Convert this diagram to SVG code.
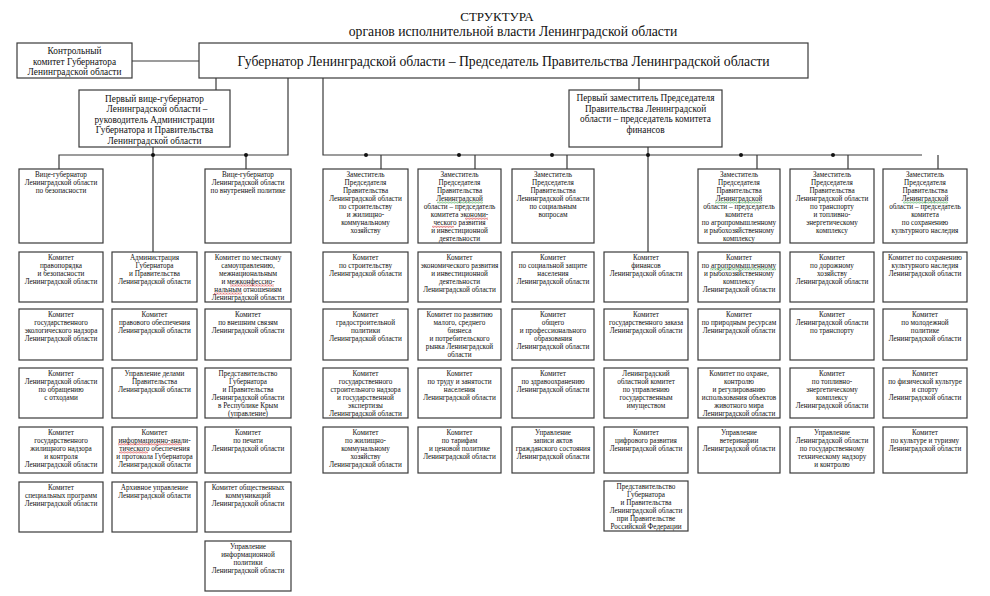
<svg xmlns="http://www.w3.org/2000/svg" width="990" height="596" viewBox="0 0 990 596">
<style>
.b{fill:#fff;stroke:#3a3a3a;stroke-width:1.2}
.t{font-family:"Liberation Serif","Times New Roman",serif;font-size:7.2px;text-anchor:middle;fill:#111}
.m{font-size:9.3px}
.c{stroke:#3a3a3a;stroke-width:1.2;fill:none}
.h{font-family:"Liberation Serif","Times New Roman",serif;text-anchor:middle;fill:#111}
</style>
<defs>
<pattern id="wr" width="3" height="2" patternUnits="userSpaceOnUse"><path d="M0 1.6 L0.75 0.4 L1.5 1.6 L2.25 0.4 L3 1.6" stroke="#d02020" stroke-width="0.6" fill="none"/></pattern>
<pattern id="wg" width="3" height="2" patternUnits="userSpaceOnUse"><path d="M0 1.6 L0.75 0.4 L1.5 1.6 L2.25 0.4 L3 1.6" stroke="#2a9a3a" stroke-width="0.6" fill="none"/></pattern>
</defs>
<rect width="990" height="596" fill="#fff"/>
<g id="title">
<text class="h" x="497" y="21" font-size="13">СТРУКТУРА</text>
<text class="h" x="513" y="36" font-size="13.7">органов исполнительной власти Ленинградской области</text>
</g>
<g id="connectors">
<path class="c" d="M132 61H199M216 78V90M288 78V155H59V169M153 147V252M246 155V169M323 78V155H922M381 155V169M475 155V169M567 155V169M639 78V90M648 147V252M757 155V169M848 155V169M938 155V169"/>
<g fill="#111"><circle cx="153" cy="155" r="2"/><circle cx="246" cy="155" r="2"/><circle cx="366" cy="155" r="2"/><circle cx="459" cy="155" r="2"/><circle cx="552" cy="155" r="2"/><circle cx="648" cy="155" r="2"/><circle cx="741" cy="155" r="2"/><circle cx="833" cy="155" r="2"/></g>
</g>
<g id="control"><rect class="b" x="17" y="43" width="115" height="35"/><text class="t m" font-size="9"><tspan x="74.5" y="54">Контрольный</tspan><tspan x="74.5" y="64.5">комитет Губернатора</tspan><tspan x="74.5" y="74.5">Ленинградской области</tspan></text></g>
<g id="governor"><rect class="b" x="199" y="43" width="609" height="35"/><text class="h" x="503.5" y="66" font-size="13.7">Губернатор Ленинградской области – Председатель Правительства Ленинградской области</text></g>
<g id="first-vice"><rect class="b" x="79" y="90" width="151" height="57"/><text class="t m" font-size="9.5"><tspan x="154.5" y="101.5">Первый вице-губернатор</tspan><tspan x="157" y="112">Ленинградской области –</tspan><tspan x="154.5" y="122.5">руководитель Администрации</tspan><tspan x="154.5" y="133">Губернатора и Правительства</tspan><tspan x="154.5" y="143.5">Ленинградской области</tspan></text></g>
<g id="first-deputy"><rect class="b" x="569" y="90" width="153" height="57"/><text class="t m" font-size="9"><tspan x="645.5" y="101">Первый заместитель Председателя</tspan><tspan x="645.5" y="111.5">Правительства Ленинградской</tspan><tspan x="645.5" y="122">области – председатель комитета</tspan><tspan x="645.5" y="133">финансов</tspan></text></g>

<!-- Column 1 -->
<g id="c1t"><rect class="b" x="19" y="169" width="84" height="74"/><text class="t"><tspan x="61" y="176.5">Вице-губернатор</tspan><tspan x="61" y="184.6">Ленинградской области</tspan><tspan x="61" y="192.7">по безопасности</tspan></text></g>
<g id="c1r1"><rect class="b" x="19" y="252" width="84" height="50"/><text class="t"><tspan x="61" y="259.5">Комитет</tspan><tspan x="61" y="267.6">правопорядка</tspan><tspan x="61" y="275.7">и безопасности</tspan><tspan x="61" y="283.8">Ленинградской области</tspan></text></g>
<g id="c1r2"><rect class="b" x="19" y="309" width="84" height="51"/><text class="t"><tspan x="61" y="316.5">Комитет</tspan><tspan x="61" y="324.6">государственного</tspan><tspan x="61" y="332.7">экологического надзора</tspan><tspan x="61" y="340.8">Ленинградской области</tspan></text></g>
<g id="c1r3"><rect class="b" x="19" y="368" width="84" height="50"/><text class="t"><tspan x="61" y="375.5">Комитет</tspan><tspan x="61" y="383.6">Ленинградской области</tspan><tspan x="61" y="391.7">по обращению</tspan><tspan x="61" y="399.8">с отходами</tspan></text></g>
<g id="c1r4"><rect class="b" x="19" y="427" width="84" height="46"/><text class="t"><tspan x="61" y="434.5">Комитет</tspan><tspan x="61" y="442.6">государственного</tspan><tspan x="61" y="450.7">жилищного надзора</tspan><tspan x="61" y="458.8">и контроля</tspan><tspan x="61" y="466.9">Ленинградской области</tspan></text></g>
<g id="c1r5"><rect class="b" x="19" y="482" width="84" height="50"/><text class="t"><tspan x="61" y="489.5">Комитет</tspan><tspan x="61" y="497.6">специальных программ</tspan><tspan x="61" y="505.7">Ленинградской области</tspan></text></g>

<!-- Column 2 -->
<g id="c2r1"><rect class="b" x="112" y="252" width="85" height="50"/><text class="t"><tspan x="154.5" y="259.5">Администрация</tspan><tspan x="154.5" y="267.6">Губернатора</tspan><tspan x="154.5" y="275.7">и Правительства</tspan><tspan x="154.5" y="283.8">Ленинградской области</tspan></text></g>
<g id="c2r2"><rect class="b" x="112" y="309" width="85" height="51"/><text class="t"><tspan x="154.5" y="316.5">Комитет</tspan><tspan x="154.5" y="324.6">правового обеспечения</tspan><tspan x="154.5" y="332.7">Ленинградской области</tspan></text></g>
<g id="c2r3"><rect class="b" x="112" y="368" width="85" height="50"/><text class="t"><tspan x="154.5" y="375.5">Управление делами</tspan><tspan x="154.5" y="383.6">Правительства</tspan><tspan x="154.5" y="391.7">Ленинградской области</tspan></text></g>
<g id="c2r4"><rect class="b" x="112" y="427" width="85" height="46"/><text class="t"><tspan x="154.5" y="434.5">Комитет</tspan><tspan x="154.5" y="442.6">информационно-анали-</tspan><tspan x="154.5" y="450.7">тического обеспечения</tspan><tspan x="154.5" y="458.8">и протокола Губернатора</tspan><tspan x="154.5" y="466.9">Ленинградской области</tspan></text></g>
<g id="c2r5"><rect class="b" x="112" y="482" width="85" height="50"/><text class="t"><tspan x="154.5" y="489.5">Архивное управление</tspan><tspan x="154.5" y="497.6">Ленинградской области</tspan></text></g>

<!-- Column 3 -->
<g id="c3t"><rect class="b" x="205" y="169" width="86" height="74"/><text class="t"><tspan x="248" y="176.5">Вице-губернатор</tspan><tspan x="248" y="184.6">Ленинградской области</tspan><tspan x="248" y="192.7">по внутренней политике</tspan></text></g>
<g id="c3r1"><rect class="b" x="205" y="252" width="86" height="50"/><text class="t"><tspan x="248" y="259.5">Комитет по местному</tspan><tspan x="248" y="267.6">самоуправлению,</tspan><tspan x="248" y="275.7">межнациональным</tspan><tspan x="248" y="283.8">и межконфессио-</tspan><tspan x="248" y="291.9">нальным отношениям</tspan><tspan x="248" y="300">Ленинградской области</tspan></text></g>
<g id="c3r2"><rect class="b" x="205" y="309" width="86" height="51"/><text class="t"><tspan x="248" y="316.5">Комитет</tspan><tspan x="248" y="324.6">по внешним связям</tspan><tspan x="248" y="332.7">Ленинградской области</tspan></text></g>
<g id="c3r3"><rect class="b" x="205" y="368" width="86" height="50"/><text class="t"><tspan x="248" y="375.5">Представительство</tspan><tspan x="248" y="383.6">Губернатора</tspan><tspan x="248" y="391.7">и Правительства</tspan><tspan x="248" y="399.8">Ленинградской области</tspan><tspan x="248" y="407.9">в Республике Крым</tspan><tspan x="248" y="416">(управление)</tspan></text></g>
<g id="c3r4"><rect class="b" x="205" y="427" width="86" height="46"/><text class="t"><tspan x="248" y="434.5">Комитет</tspan><tspan x="248" y="442.6">по печати</tspan><tspan x="248" y="450.7">Ленинградской области</tspan></text></g>
<g id="c3r5"><rect class="b" x="205" y="482" width="86" height="50"/><text class="t"><tspan x="248" y="489.5">Комитет общественных</tspan><tspan x="248" y="497.6">коммуникаций</tspan><tspan x="248" y="505.7">Ленинградской области</tspan></text></g>
<g id="c3r6"><rect class="b" x="205" y="541" width="86" height="50"/><text class="t"><tspan x="248" y="548.5">Управление</tspan><tspan x="248" y="556.6">информационной</tspan><tspan x="248" y="564.7">политики</tspan><tspan x="248" y="572.8">Ленинградской области</tspan></text></g>

<!-- Column 4 -->
<g id="c4t"><rect class="b" x="323" y="169" width="85" height="74"/><text class="t"><tspan x="365.5" y="176.5">Заместитель</tspan><tspan x="365.5" y="184.6">Председателя</tspan><tspan x="365.5" y="192.7">Правительства</tspan><tspan x="365.5" y="200.8">Ленинградской области</tspan><tspan x="365.5" y="208.9">по строительству</tspan><tspan x="365.5" y="217">и жилищно-</tspan><tspan x="365.5" y="225.1">коммунальному</tspan><tspan x="365.5" y="233.2">хозяйству</tspan></text></g>
<g id="c4r1"><rect class="b" x="323" y="252" width="85" height="50"/><text class="t"><tspan x="365.5" y="259.5">Комитет</tspan><tspan x="365.5" y="267.6">по строительству</tspan><tspan x="365.5" y="275.7">Ленинградской области</tspan></text></g>
<g id="c4r2"><rect class="b" x="323" y="309" width="85" height="51"/><text class="t"><tspan x="365.5" y="316.5">Комитет</tspan><tspan x="365.5" y="324.6">градостроительной</tspan><tspan x="365.5" y="332.7">политики</tspan><tspan x="365.5" y="340.8">Ленинградской области</tspan></text></g>
<g id="c4r3"><rect class="b" x="323" y="368" width="85" height="50"/><text class="t"><tspan x="365.5" y="375.5">Комитет</tspan><tspan x="365.5" y="383.6">государственного</tspan><tspan x="365.5" y="391.7">строительного надзора</tspan><tspan x="365.5" y="399.8">и государственной</tspan><tspan x="365.5" y="407.9">экспертизы</tspan><tspan x="365.5" y="416">Ленинградской области</tspan></text></g>
<g id="c4r4"><rect class="b" x="323" y="427" width="85" height="46"/><text class="t"><tspan x="365.5" y="434.5">Комитет</tspan><tspan x="365.5" y="442.6">по жилищно-</tspan><tspan x="365.5" y="450.7">коммунальному</tspan><tspan x="365.5" y="458.8">хозяйству</tspan><tspan x="365.5" y="466.9">Ленинградской области</tspan></text></g>

<!-- Column 5 -->
<g id="c5t"><rect class="b" x="418" y="169" width="83" height="74"/><text class="t"><tspan x="459.5" y="176.5">Заместитель</tspan><tspan x="459.5" y="184.6">Председателя</tspan><tspan x="459.5" y="192.7">Правительства</tspan><tspan x="459.5" y="200.8">Ленинградской</tspan><tspan x="459.5" y="208.9">области – председатель</tspan><tspan x="459.5" y="217">комитета экономи-</tspan><tspan x="459.5" y="225.1">ческого развития</tspan><tspan x="459.5" y="233.2">и инвестиционной</tspan><tspan x="459.5" y="241.3">деятельности</tspan></text></g>
<g id="c5r1"><rect class="b" x="418" y="252" width="83" height="50"/><text class="t"><tspan x="459.5" y="259.5">Комитет</tspan><tspan x="459.5" y="267.6">экономического развития</tspan><tspan x="459.5" y="275.7">и инвестиционной</tspan><tspan x="459.5" y="283.8">деятельности</tspan><tspan x="459.5" y="291.9">Ленинградской области</tspan></text></g>
<g id="c5r2"><rect class="b" x="418" y="309" width="83" height="51"/><text class="t"><tspan x="459.5" y="316.5">Комитет по развитию</tspan><tspan x="459.5" y="324.6">малого, среднего</tspan><tspan x="459.5" y="332.7">бизнеса</tspan><tspan x="459.5" y="340.8">и потребительского</tspan><tspan x="459.5" y="348.9">рынка Ленинградской</tspan><tspan x="459.5" y="357">области</tspan></text></g>
<g id="c5r3"><rect class="b" x="418" y="368" width="83" height="50"/><text class="t"><tspan x="459.5" y="375.5">Комитет</tspan><tspan x="459.5" y="383.6">по труду и занятости</tspan><tspan x="459.5" y="391.7">населения</tspan><tspan x="459.5" y="399.8">Ленинградской области</tspan></text></g>
<g id="c5r4"><rect class="b" x="418" y="427" width="83" height="46"/><text class="t"><tspan x="459.5" y="434.5">Комитет</tspan><tspan x="459.5" y="442.6">по тарифам</tspan><tspan x="459.5" y="450.7">и ценовой политике</tspan><tspan x="459.5" y="458.8">Ленинградской области</tspan></text></g>

<!-- Column 6 -->
<g id="c6t"><rect class="b" x="512" y="169" width="82" height="74"/><text class="t"><tspan x="553" y="176.5">Заместитель</tspan><tspan x="553" y="184.6">Председателя</tspan><tspan x="553" y="192.7">Правительства</tspan><tspan x="553" y="200.8">Ленинградской области</tspan><tspan x="553" y="208.9">по социальным</tspan><tspan x="553" y="217">вопросам</tspan></text></g>
<g id="c6r1"><rect class="b" x="512" y="252" width="82" height="50"/><text class="t"><tspan x="553" y="259.5">Комитет</tspan><tspan x="553" y="267.6">по социальной защите</tspan><tspan x="553" y="275.7">населения</tspan><tspan x="553" y="283.8">Ленинградской области</tspan></text></g>
<g id="c6r2"><rect class="b" x="512" y="309" width="82" height="51"/><text class="t"><tspan x="553" y="316.5">Комитет</tspan><tspan x="553" y="324.6">общего</tspan><tspan x="553" y="332.7">и профессионального</tspan><tspan x="553" y="340.8">образования</tspan><tspan x="553" y="348.9">Ленинградской области</tspan></text></g>
<g id="c6r3"><rect class="b" x="512" y="368" width="82" height="50"/><text class="t"><tspan x="553" y="375.5">Комитет</tspan><tspan x="553" y="383.6">по здравоохранению</tspan><tspan x="553" y="391.7">Ленинградской области</tspan></text></g>
<g id="c6r4"><rect class="b" x="512" y="427" width="82" height="46"/><text class="t"><tspan x="553" y="434.5">Управление</tspan><tspan x="553" y="442.6">записи актов</tspan><tspan x="553" y="450.7">гражданского состояния</tspan><tspan x="553" y="458.8">Ленинградской области</tspan></text></g>

<!-- Column 7 -->
<g id="c7r1"><rect class="b" x="604" y="252" width="84" height="50"/><text class="t"><tspan x="646" y="259.5">Комитет</tspan><tspan x="646" y="267.6">финансов</tspan><tspan x="646" y="275.7">Ленинградской области</tspan></text></g>
<g id="c7r2"><rect class="b" x="604" y="309" width="84" height="51"/><text class="t"><tspan x="646" y="316.5">Комитет</tspan><tspan x="646" y="324.6">государственного заказа</tspan><tspan x="646" y="332.7">Ленинградской области</tspan></text></g>
<g id="c7r3"><rect class="b" x="604" y="368" width="84" height="50"/><text class="t"><tspan x="646" y="375.5">Ленинградский</tspan><tspan x="646" y="383.6">областной комитет</tspan><tspan x="646" y="391.7">по управлению</tspan><tspan x="646" y="399.8">государственным</tspan><tspan x="646" y="407.9">имуществом</tspan></text></g>
<g id="c7r4"><rect class="b" x="604" y="427" width="84" height="46"/><text class="t"><tspan x="646" y="434.5">Комитет</tspan><tspan x="646" y="442.6">цифрового развития</tspan><tspan x="646" y="450.7">Ленинградской области</tspan></text></g>
<g id="c7r5"><rect class="b" x="604" y="481" width="84" height="50"/><text class="t"><tspan x="646" y="488.5">Представительство</tspan><tspan x="646" y="496.6">Губернатора</tspan><tspan x="646" y="504.7">и Правительства</tspan><tspan x="646" y="512.8">Ленинградской области</tspan><tspan x="646" y="520.9">при Правительстве</tspan><tspan x="646" y="529">Российской Федерации</tspan></text></g>

<!-- Column 8 -->
<g id="c8t"><rect class="b" x="698" y="169" width="82" height="74"/><text class="t"><tspan x="739" y="176.5">Заместитель</tspan><tspan x="739" y="184.6">Председателя</tspan><tspan x="739" y="192.7">Правительства</tspan><tspan x="739" y="200.8">Ленинградской</tspan><tspan x="739" y="208.9">области – председатель</tspan><tspan x="739" y="217">комитета</tspan><tspan x="739" y="225.1">по агропромышленному</tspan><tspan x="739" y="233.2">и рыбохозяйственному</tspan><tspan x="739" y="241.3">комплексу</tspan></text></g>
<g id="c8r1"><rect class="b" x="698" y="252" width="82" height="50"/><text class="t"><tspan x="739" y="259.5">Комитет</tspan><tspan x="739" y="267.6">по агропромышленному</tspan><tspan x="739" y="275.7">и рыбохозяйственному</tspan><tspan x="739" y="283.8">комплексу</tspan><tspan x="739" y="291.9">Ленинградской области</tspan></text></g>
<g id="c8r2"><rect class="b" x="698" y="309" width="82" height="51"/><text class="t"><tspan x="739" y="316.5">Комитет</tspan><tspan x="739" y="324.6">по природным ресурсам</tspan><tspan x="739" y="332.7">Ленинградской области</tspan></text></g>
<g id="c8r3"><rect class="b" x="698" y="368" width="82" height="50"/><text class="t"><tspan x="739" y="375.5">Комитет по охране,</tspan><tspan x="739" y="383.6">контролю</tspan><tspan x="739" y="391.7">и регулированию</tspan><tspan x="739" y="399.8">использования объектов</tspan><tspan x="739" y="407.9">животного мира</tspan><tspan x="739" y="416">Ленинградской области</tspan></text></g>
<g id="c8r4"><rect class="b" x="698" y="427" width="82" height="46"/><text class="t"><tspan x="739" y="434.5">Управление</tspan><tspan x="739" y="442.6">ветеринарии</tspan><tspan x="739" y="450.7">Ленинградской области</tspan></text></g>

<!-- Column 9 -->
<g id="c9t"><rect class="b" x="790" y="169" width="84" height="74"/><text class="t"><tspan x="832" y="176.5">Заместитель</tspan><tspan x="832" y="184.6">Председателя</tspan><tspan x="832" y="192.7">Правительства</tspan><tspan x="832" y="200.8">Ленинградской области</tspan><tspan x="832" y="208.9">по транспорту</tspan><tspan x="832" y="217">и топливно-</tspan><tspan x="832" y="225.1">энергетическому</tspan><tspan x="832" y="233.2">комплексу</tspan></text></g>
<g id="c9r1"><rect class="b" x="790" y="252" width="84" height="50"/><text class="t"><tspan x="832" y="259.5">Комитет</tspan><tspan x="832" y="267.6">по дорожному</tspan><tspan x="832" y="275.7">хозяйству</tspan><tspan x="832" y="283.8">Ленинградской области</tspan></text></g>
<g id="c9r2"><rect class="b" x="790" y="309" width="84" height="51"/><text class="t"><tspan x="832" y="316.5">Комитет</tspan><tspan x="832" y="324.6">Ленинградской области</tspan><tspan x="832" y="332.7">по транспорту</tspan></text></g>
<g id="c9r3"><rect class="b" x="790" y="368" width="84" height="50"/><text class="t"><tspan x="832" y="375.5">Комитет</tspan><tspan x="832" y="383.6">по топливно-</tspan><tspan x="832" y="391.7">энергетическому</tspan><tspan x="832" y="399.8">комплексу</tspan><tspan x="832" y="407.9">Ленинградской области</tspan></text></g>
<g id="c9r4"><rect class="b" x="790" y="427" width="84" height="46"/><text class="t"><tspan x="832" y="434.5">Управление</tspan><tspan x="832" y="442.6">Ленинградской области</tspan><tspan x="832" y="450.7">по государственному</tspan><tspan x="832" y="458.8">техническому надзору</tspan><tspan x="832" y="466.9">и контролю</tspan></text></g>

<!-- Column 10 -->
<g id="c10t"><rect class="b" x="883" y="169" width="84" height="74"/><text class="t"><tspan x="925" y="176.5">Заместитель</tspan><tspan x="925" y="184.6">Председателя</tspan><tspan x="925" y="192.7">Правительства</tspan><tspan x="925" y="200.8">Ленинградской</tspan><tspan x="925" y="208.9">области – председатель</tspan><tspan x="925" y="217">комитета</tspan><tspan x="925" y="225.1">по сохранению</tspan><tspan x="925" y="233.2">культурного наследия</tspan></text></g>
<g id="c10r1"><rect class="b" x="883" y="252" width="84" height="50"/><text class="t"><tspan x="925" y="259.5">Комитет по сохранению</tspan><tspan x="925" y="267.6">культурного наследия</tspan><tspan x="925" y="275.7">Ленинградской области</tspan></text></g>
<g id="c10r2"><rect class="b" x="883" y="309" width="84" height="51"/><text class="t"><tspan x="925" y="316.5">Комитет</tspan><tspan x="925" y="324.6">по молодежной</tspan><tspan x="925" y="332.7">политике</tspan><tspan x="925" y="340.8">Ленинградской области</tspan></text></g>
<g id="c10r3"><rect class="b" x="883" y="368" width="84" height="50"/><text class="t"><tspan x="925" y="375.5">Комитет</tspan><tspan x="925" y="383.6">по физической культуре</tspan><tspan x="925" y="391.7">и спорту</tspan><tspan x="925" y="399.8">Ленинградской области</tspan></text></g>
<g id="c10r4"><rect class="b" x="883" y="427" width="84" height="46"/><text class="t"><tspan x="925" y="434.5">Комитет</tspan><tspan x="925" y="442.6">по культуре и туризму</tspan><tspan x="925" y="450.7">Ленинградской области</tspan></text></g>

<g id="spellmarks">
<rect x="118" y="443.3" width="64" height="2" fill="url(#wr)"/>
<rect x="119" y="451.4" width="29" height="2" fill="url(#wr)"/>
<rect x="230" y="284.5" width="44" height="2" fill="url(#wr)"/>
<rect x="214" y="292.6" width="28" height="2" fill="url(#wr)"/>
<rect x="437" y="201.5" width="46" height="2" fill="url(#wg)"/>
<rect x="465" y="217.7" width="23" height="2" fill="url(#wr)"/>
<rect x="432" y="225.8" width="22" height="2" fill="url(#wr)"/>
<rect x="715" y="201.5" width="47" height="2" fill="url(#wg)"/>
<rect x="710" y="268.3" width="66" height="2" fill="url(#wg)"/>
<rect x="903" y="201.5" width="45" height="2" fill="url(#wg)"/>
</g>
</svg>
